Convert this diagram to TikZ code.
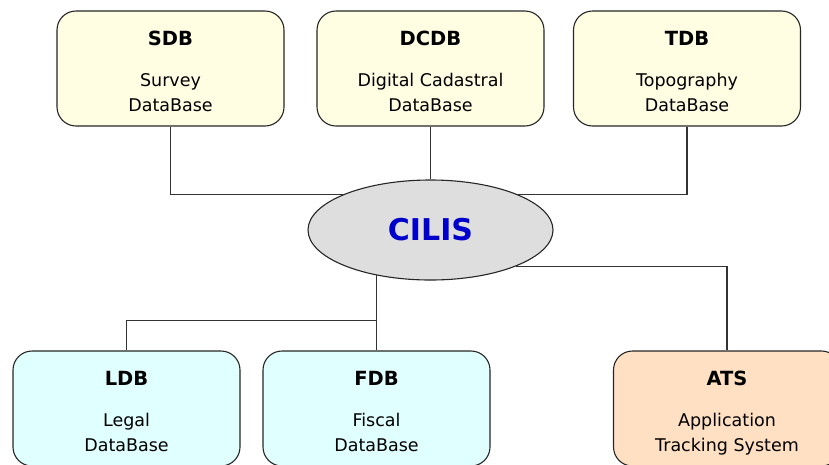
\documentclass[tikz,border=0pt]{standalone}
\usepackage{fontspec}
\setmainfont{DejaVu Sans}
\usetikzlibrary{shapes.geometric,backgrounds,calc}
\definecolor{topfill}{HTML}{FFFDE2}
\definecolor{lowfill}{HTML}{E0FFFF}
\definecolor{atsfill}{HTML}{FFE0C2}
\definecolor{ellfill}{HTML}{DEDEDE}
\definecolor{cilisblue}{HTML}{0000CC}
\definecolor{linecol}{HTML}{333333}
\tikzset{
  dbbox/.style={draw=black!85, line width=1.1pt, rounded corners=19pt,
    minimum width=227pt, minimum height=115pt, inner sep=0pt},
  titletext/.style={anchor=base, inner sep=0pt, font=\fontsize{19.5}{24}\selectfont\bfseries},
  bodytext/.style={anchor=base, inner sep=0pt, font=\fontsize{17.5}{22}\selectfont},
  conn/.style={draw=linecol, line width=1.1pt}
}
\newcommand{\dbnode}[6]{%
  \node[dbbox, fill=#3] (#1) at (#2) {};
  \node[titletext] (#1-t) at ($(#1.north)+(0,35)$) {#4};
  \node[bodytext] (#1-a) at ($(#1.north)+(0,76)$) {#5};
  \node[bodytext] (#1-b) at ($(#1.north)+(0,101)$) {#6};
}
\begin{document}
\begin{tikzpicture}[x=1pt,y=-1pt]
\useasboundingbox (0,0) rectangle (829,464);
\dbnode{sdb}{170.5,68.5}{topfill}{SDB}{Survey}{DataBase}
\dbnode{dcdb}{430.5,68.5}{topfill}{DCDB}{Digital Cadastral}{DataBase}
\dbnode{tdb}{687,68.5}{topfill}{TDB}{Topography}{DataBase}
\node[ellipse, draw=black!85, line width=1.1pt, fill=ellfill, minimum width=245pt,
      minimum height=100pt, inner sep=0pt, text=cilisblue,
      font=\fontsize{30}{36}\selectfont\bfseries] (cilis) at (430.5,230) {CILIS};
\dbnode{ldb}{126.5,408.5}{lowfill}{LDB}{Legal}{DataBase}
\dbnode{fdb}{376.5,408.5}{lowfill}{FDB}{Fiscal}{DataBase}
\dbnode{ats}{727,408.5}{atsfill}{ATS}{Application}{Tracking System}
\coordinate (j) at ($(fdb.north)+(0,-30)$);
\begin{scope}[on background layer]
  \draw[conn] (sdb.south) |- (cilis.158);
  \draw[conn] (tdb.south) |- (cilis.22);
  \draw[conn] (dcdb.south) -- (cilis.north);
  \draw[conn] (fdb.north) -- (fdb.north |- cilis.center);
  \draw[conn] (ldb.north) |- (j);
  \draw[conn] (cilis.-23) -| (ats.north);
\end{scope}
\end{tikzpicture}
\end{document}
